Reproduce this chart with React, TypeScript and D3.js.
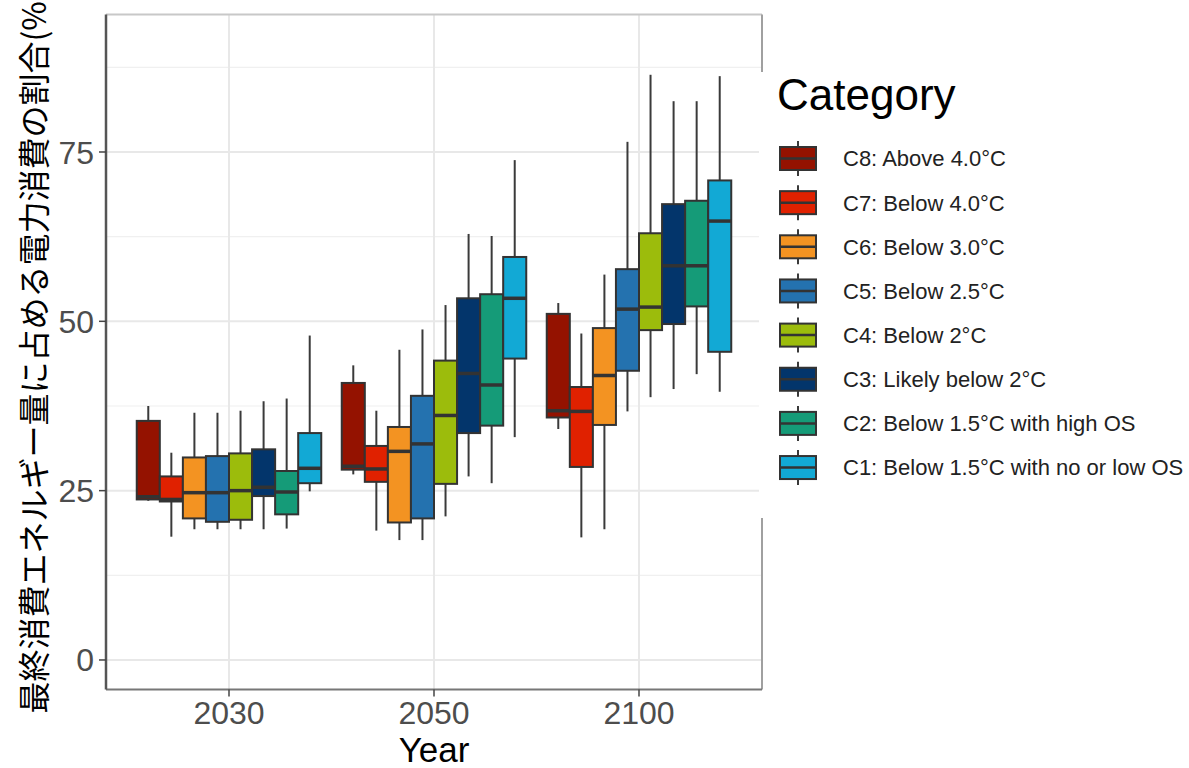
import React from "react";
import * as d3 from "d3";

const years = ["2030", "2050", "2100"];
const categories = ["C8", "C7", "C6", "C5", "C4", "C3", "C2", "C1"];
const categoryLabels = [
  "C8: Above 4.0°C",
  "C7: Below 4.0°C",
  "C6: Below 3.0°C",
  "C5: Below 2.5°C",
  "C4: Below 2°C",
  "C3: Likely below 2°C",
  "C2: Below 1.5°C with high OS",
  "C1: Below 1.5°C with no or low OS",
];
const categoryColors = ["#941200", "#e02100", "#f39322", "#2472af", "#9cbc0c", "#03356b", "#159b78", "#12a9d5"];

// [lower whisker, q1, median, q3, upper whisker] in category order C8..C1
const stats2030 = [
  [23.5, 23.7, 24.1, 35.3, 37.5],
  [18.2, 23.4, 23.7, 27.1, 30.6],
  [19.3, 20.9, 24.7, 29.9, 36.5],
  [19.3, 20.4, 24.7, 30.1, 36.5],
  [19.3, 20.7, 25.0, 30.5, 36.8],
  [19.3, 24.2, 25.5, 31.1, 38.2],
  [19.4, 21.5, 24.8, 27.9, 38.6],
  [24.9, 26.1, 28.3, 33.5, 47.9],
];
const stats2050 = [
  [27.4, 28.1, 28.6, 40.9, 43.5],
  [19.1, 26.3, 28.2, 31.6, 36.8],
  [17.7, 20.3, 30.8, 34.4, 45.8],
  [17.7, 20.9, 31.9, 39.0, 48.8],
  [21.2, 26.0, 36.1, 44.2, 52.4],
  [27.1, 33.5, 42.3, 53.4, 62.9],
  [26.1, 34.6, 40.6, 54.0, 62.6],
  [32.9, 44.5, 53.4, 59.5, 73.8],
];
const stats2100 = [
  [34.1, 35.8, 36.8, 51.1, 52.7],
  [18.1, 28.5, 36.7, 40.3, 48.2],
  [19.3, 34.7, 42.0, 49.0, 56.9],
  [36.7, 42.7, 51.8, 57.7, 76.5],
  [38.8, 48.7, 52.1, 63.0, 86.4],
  [40.0, 49.6, 58.2, 67.3, 82.5],
  [42.2, 52.2, 58.2, 67.8, 82.5],
  [39.6, 45.5, 64.8, 70.8, 86.2],
];
const yTicks = [0, 25, 50, 75];
const yMinorTicks = [12.5, 37.5, 62.5, 87.5];
const yTitle = "最終消費エネルギー量に占める電力消費の割合(%)";
const xTitle = "Year";
const legendTitle = "Category";

const W = 1189;
const H = 768;
const panel = { left: 106, right: 762, top: 14.5, bottom: 689.5 };
const latin = "'Liberation Sans', Arial, Helvetica, sans-serif";
const cjk = "'Noto Sans CJK JP', 'Noto Sans CJK SC', sans-serif";

export default function App() {
  const allStats = [stats2030, stats2050, stats2100];
  const x = d3.scaleBand().domain(years).range([panel.left, panel.right]).paddingInner(0).paddingOuter(0.1);
  const bw = x.bandwidth();
  const inner = d3.scaleBand().domain(categories).range([0.05 * bw, 0.95 * bw]).padding(0);
  const y = d3.scaleLinear().domain([-4.36, 95.3]).range([panel.bottom, panel.top]);
  const boxW = inner.bandwidth();

  const legendX = 780;
  const legendY0 = 158.5;
  const legendStep = 44.15;

  return (
    <svg width={W} height={H} style={{ position: "absolute", left: 0, top: 0, background: "#fff" }}>
      <rect x={0} y={0} width={W} height={H} fill="#fff" />
      {/* grid */}
      {yMinorTicks.map((t) => (
        <line key={"mn" + t} x1={panel.left} x2={panel.right} y1={y(t)} y2={y(t)} stroke="#f0f0f0" strokeWidth={1.2} />
      ))}
      {yTicks.map((t) => (
        <line key={"mj" + t} x1={panel.left} x2={panel.right} y1={y(t)} y2={y(t)} stroke="#e8e8e8" strokeWidth={2} />
      ))}
      {years.map((yr) => (
        <line key={"vx" + yr} x1={x(yr)! + bw / 2} x2={x(yr)! + bw / 2} y1={panel.top} y2={panel.bottom} stroke="#e8e8e8" strokeWidth={2} />
      ))}
      {/* boxes */}
      {years.map((yr, yi) =>
        categories.map((c, ci) => {
          const s = allStats[yi][ci];
          const x0 = x(yr)! + inner(c)!;
          const cx = x0 + boxW / 2;
          return (
            <g key={yr + c}>
              <line x1={cx} x2={cx} y1={y(s[3])} y2={y(s[4])} stroke="#3a3a3a" strokeWidth={2} />
              <line x1={cx} x2={cx} y1={y(s[1])} y2={y(s[0])} stroke="#3a3a3a" strokeWidth={2} />
              <rect x={x0} y={y(s[3])} width={boxW} height={y(s[1]) - y(s[3])} fill={categoryColors[ci]} stroke="#333" strokeWidth={2} />
              <line x1={x0} x2={x0 + boxW} y1={y(s[2])} y2={y(s[2])} stroke="#333" strokeWidth={3.5} />
            </g>
          );
        })
      )}
      {/* panel border */}
      <line x1={panel.left} x2={panel.right} y1={panel.top} y2={panel.top} stroke="#c8c8c8" strokeWidth={2} />
      <line x1={panel.right} x2={panel.right} y1={panel.top} y2={panel.bottom} stroke="#a0a0a0" strokeWidth={2} />
      <line x1={panel.left} x2={panel.right} y1={panel.bottom} y2={panel.bottom} stroke="#777" strokeWidth={2} />
      <line x1={panel.left} x2={panel.left} y1={panel.top} y2={panel.bottom} stroke="#555" strokeWidth={2.5} />
      {/* y axis ticks and labels */}
      {yTicks.map((t) => (
        <g key={"yt" + t}>
          <line x1={panel.left - 7} x2={panel.left} y1={y(t)} y2={y(t)} stroke="#444" strokeWidth={1.5} />
          <text x={panel.left - 12} y={y(t)} dy="0.36em" textAnchor="end" fontFamily={latin} fontSize={32} fill="#4d4d4d">
            {t}
          </text>
        </g>
      ))}
      {/* x axis ticks and labels */}
      {years.map((yr) => (
        <g key={"xt" + yr}>
          <line x1={x(yr)! + bw / 2} x2={x(yr)! + bw / 2} y1={panel.bottom} y2={panel.bottom + 7} stroke="#444" strokeWidth={1.5} />
          <text x={x(yr)! + bw / 2} y={724} textAnchor="middle" fontFamily={latin} fontSize={32} fill="#4d4d4d">
            {yr}
          </text>
        </g>
      ))}
      <text x={(panel.left + panel.right) / 2} y={762} textAnchor="middle" fontFamily={latin} fontSize={35} fill="#000">
        {xTitle}
      </text>
      <text
        transform={`translate(${46},${(panel.top + panel.bottom) / 2}) rotate(-90)`}
        textAnchor="middle"
        fontFamily={cjk}
        fontSize={32}
        fill="#000"
      >
        {yTitle}
      </text>
      {/* legend background */}
      <rect x={759} y={72} width={W - 759} height={446} fill="#fff" />
      <text x={777} y={110} fontFamily={latin} fontSize={44} fill="#000">
        {legendTitle}
      </text>
      {categories.map((c, i) => {
        const cy = legendY0 + i * legendStep;
        return (
          <g key={"lg" + c}>
            <line x1={legendX + 18} x2={legendX + 18} y1={cy - 17.5} y2={cy + 17.5} stroke="#3a3a3a" strokeWidth={2} />
            <rect x={legendX} y={cy - 11.5} width={36} height={23} fill={categoryColors[i]} stroke="#333" strokeWidth={2} />
            <line x1={legendX} x2={legendX + 36} y1={cy} y2={cy} stroke="#333" strokeWidth={2.5} />
            <text x={843} y={cy} dy="0.36em" fontFamily={latin} fontSize={22} fill="#222">
              {categoryLabels[i]}
            </text>
          </g>
        );
      })}
    </svg>
  );
}
